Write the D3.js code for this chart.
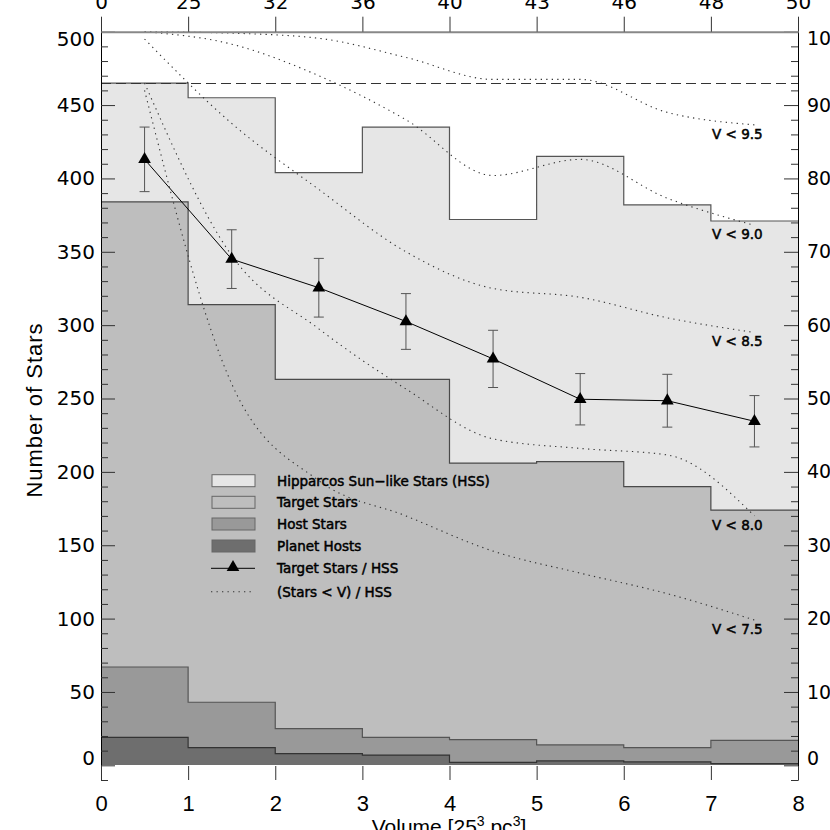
<!DOCTYPE html>
<html><head><meta charset="utf-8">
<script src="https://cdn.jsdelivr.net/npm/d3@7"></script>
<style>body{margin:0;background:#fff}svg{display:block}</style>
</head><body>
<svg id="c" width="830" height="830"></svg>
<script>
// ---- data ----
const bins = [0, 1, 2, 3, 4, 5, 6, 7];
const hssCounts = [465, 455, 404, 435, 372, 415, 382, 371];
const targetCounts = [384, 314, 263, 263, 206, 207, 190, 174];
const hostCounts = [67, 43, 25, 19, 17.5, 14, 12, 17];
const planetCounts = [19, 12, 8, 7, 2, 3, 2.3, 1.2];
const ratioX = [0.5, 1.5, 2.5, 3.5, 4.5, 5.5, 6.5, 7.5];
const ratioPct = [82.6, 69.0, 65.1, 60.5, 55.4, 49.9, 49.7, 46.9];
const ratioErr = [4.4, 4.0, 4.0, 3.8, 3.9, 3.5, 3.6, 3.5];
const curveX = [0.5, 1.5, 2.5, 3.5, 4.5, 5.5, 6.5, 7.5];
const v95 = [100, 99.8, 99.1, 96.5, 93.5, 93.5, 89.0, 87.3];
const v90 = [100, 98.3, 94.0, 88.0, 80.4, 82.6, 77.3, 73.6];
const v85 = [99, 87.5, 78.5, 70.0, 65.0, 63.8, 61.0, 59.0];
const v80 = [93, 69.5, 59.5, 51.3, 44.5, 43.2, 42.3, 34.0];
const v75 = [92, 52.0, 38.8, 34.0, 29.2, 26.2, 23.4, 19.8];
const curveNames = ["V < 9.5", "V < 9.0", "V < 8.5", "V < 8.0", "V < 7.5"];
const dashedLevel = 465;
const leftTicks = [0, 50, 100, 150, 200, 250, 300, 350, 400, 450, 500];
const rightTicks = [0, 10, 20, 30, 40, 50, 60, 70, 80, 90, 100];
const bottomTicks = [0, 1, 2, 3, 4, 5, 6, 7, 8];
const topLabels = ["0", "25", "32", "36", "40", "43", "46", "48", "50"];
const legendItems = ["Hipparcos Sun\u2212like Stars (HSS)", "Target Stars", "Host Stars", "Planet Hosts", "Target Stars / HSS", "(Stars < V) / HSS"];

// ---- chart ----
const svg = d3.select('#c');
const x = d3.scaleLinear([0, 8], [101, 798]);
const y = d3.scaleLinear([-10, 500], [780, 31.7]);
const yR = d3.scaleLinear([-2, 100], [780, 31.7]);

const cHSS = '#e6e6e6', cTarget = '#bebebe', cHost = '#999999', cPlanet = '#6e6e6e';

function bars(vals, fill) {
  svg.append('g').attr('shape-rendering', 'crispEdges')
    .selectAll('rect').data(vals).join('rect')
    .attr('x', (d, i) => x(bins[i]))
    .attr('width', (d, i) => x(bins[i] + 1) - x(bins[i]))
    .attr('y', d => y(d))
    .attr('height', d => y(0) - y(d))
    .attr('fill', fill);
}
function outline(vals, stroke) {
  const pts = vals.map((d, i) => [bins[i], d]);
  pts.push([8, vals[vals.length - 1]]);
  svg.append('path')
    .attr('d', d3.line().x(d => x(d[0])).y(d => y(d[1])).curve(d3.curveStepAfter)(pts))
    .attr('fill', 'none').attr('stroke', stroke).attr('stroke-width', 1.2);
}
bars(hssCounts, cHSS);
bars(targetCounts, cTarget);
bars(hostCounts, cHost);
bars(planetCounts, cPlanet);
outline(hssCounts, '#555');
outline(targetCounts, '#4a4a4a');
outline(hostCounts, '#555');
outline(planetCounts, '#333');

// dashed reference level
svg.append('line')
  .attr('x1', x(0)).attr('x2', x(8)).attr('y1', Math.round(y(dashedLevel)) + 0.5).attr('y2', Math.round(y(dashedLevel)) + 0.5)
  .attr('stroke', '#333').attr('stroke-width', 1).attr('stroke-dasharray', '10,5');

// dotted curves
const curves = [v95, v90, v85, v80, v75];
const cLine = d3.line().x((d, i) => x(curveX[i])).y(d => yR(d)).curve(d3.curveMonotoneX);
curves.forEach((c, k) => {
  svg.append('path').attr('d', cLine(c))
    .attr('fill', 'none').attr('stroke', '#333').attr('stroke-width', 1.1)
    .attr('stroke-dasharray', '1.3,4.2');
  svg.append('text')
    .attr('x', 712).attr('y', yR(c[c.length - 1]) + 14)
    .attr('font-family', 'DejaVu Sans').attr('font-size', 13.5)
    .attr('stroke', '#000').attr('stroke-width', 0.5)
    .text(curveNames[k]);
});

// ratio line, error bars, triangles
svg.append('path')
  .attr('d', d3.line().x((d, i) => x(ratioX[i])).y(d => yR(d))(ratioPct))
  .attr('fill', 'none').attr('stroke', '#000').attr('stroke-width', 1);
const eb = svg.append('g').attr('stroke', '#555').attr('stroke-width', 1);
ratioPct.forEach((p, i) => {
  const cx = x(ratioX[i]);
  eb.append('line').attr('x1', cx).attr('x2', cx).attr('y1', yR(p + ratioErr[i])).attr('y2', yR(p - ratioErr[i]));
  eb.append('line').attr('x1', cx - 5).attr('x2', cx + 5).attr('y1', yR(p + ratioErr[i])).attr('y2', yR(p + ratioErr[i]));
  eb.append('line').attr('x1', cx - 5).attr('x2', cx + 5).attr('y1', yR(p - ratioErr[i])).attr('y2', yR(p - ratioErr[i]));
});
const tri = d3.symbol(d3.symbolTriangle, 70);
svg.append('g').selectAll('path').data(ratioPct).join('path')
  .attr('d', tri).attr('transform', (d, i) => `translate(${x(ratioX[i])},${yR(d)})`)
  .attr('fill', '#000');

// legend
const lg = svg.append('g').attr('font-family', 'DejaVu Sans').attr('font-size', 13.5);
const rowY = [480.7, 502.3, 524, 546, 568.3, 591.7];
const boxFill = [cHSS, cTarget, cHost, cPlanet];
legendItems.forEach((t, i) => {
  if (i < 4) {
    lg.append('rect').attr('x', 212).attr('y', rowY[i] - 6).attr('width', 43).attr('height', 12)
      .attr('fill', boxFill[i]).attr('stroke', '#666').attr('stroke-width', 1);
  } else if (i === 4) {
    lg.append('line').attr('x1', 211).attr('x2', 255).attr('y1', rowY[i]).attr('y2', rowY[i]).attr('stroke', '#000');
    lg.append('path').attr('d', tri).attr('transform', `translate(233,${rowY[i] - 1})`).attr('fill', '#000');
  } else {
    lg.append('line').attr('x1', 211).attr('x2', 255).attr('y1', rowY[i]).attr('y2', rowY[i])
      .attr('stroke', '#333').attr('stroke-dasharray', '1.3,4.2').attr('stroke-width', 1.1);
  }
  lg.append('text').attr('x', 277).attr('y', rowY[i] + 5)
    .attr('stroke', '#000').attr('stroke-width', 0.5).text(t);
});

// axes
function styleAxis(g, size) {
  g.selectAll('text').attr('font-family', 'DejaVu Sans').attr('font-size', size).attr('fill', '#000');
  g.selectAll('.tick line').attr('stroke', '#333');
}
const axLeft = svg.append('g').attr('transform', `translate(${x(0)},0)`)
  .call(d3.axisLeft(y).tickValues(leftTicks).tickSize(-14).tickSizeOuter(0).tickPadding(6));
styleAxis(axLeft, 20);
axLeft.select('.domain').attr('stroke', '#000');
axLeft.selectAll('.tick text').attr('dy', d => d === 500 ? '0.68em' : d === 0 ? '-0.05em' : '0.32em');
svg.append('g').attr('transform', `translate(${x(0)},0)`)
  .call(d3.axisLeft(y).tickValues(d3.range(-10, 501, 10).filter(v => v % 50 !== 0)).tickSize(-7).tickFormat(''))
  .call(g => { g.select('.domain').remove(); g.selectAll('line').attr('stroke', '#333'); });

const axRight = svg.append('g').attr('transform', `translate(${x(8)},0)`)
  .call(d3.axisRight(yR).tickValues(rightTicks).tickSize(-14).tickSizeOuter(0).tickPadding(9));
styleAxis(axRight, 19);
axRight.select('.domain').attr('stroke', '#000');
axRight.selectAll('.tick text').attr('dy', d => d === 100 ? '0.68em' : d === 0 ? '-0.05em' : '0.32em');
svg.append('g').attr('transform', `translate(${x(8)},0)`)
  .call(d3.axisRight(yR).tickValues(d3.range(-2, 101, 2).filter(v => v % 10 !== 0)).tickSize(-7).tickFormat(''))
  .call(g => { g.select('.domain').remove(); g.selectAll('line').attr('stroke', '#333'); });

const axBottom = svg.append('g').attr('transform', `translate(0,${y(-10)})`)
  .call(d3.axisBottom(x).tickValues(bottomTicks).tickSize(-14).tickSizeOuter(0).tickPadding(15));
styleAxis(axBottom, 20);
axBottom.selectAll('text').attr('font-family', 'Liberation Sans Narrow, Liberation Sans, sans-serif').attr('font-size', 22);
axBottom.select('.domain').remove();

const axTop = svg.append('g').attr('transform', `translate(0,${y(500)})`)
  .call(d3.axisTop(x).tickValues(bottomTicks).tickSize(15).tickSizeOuter(0).tickPadding(8)
    .tickFormat((d, i) => topLabels[i]));
styleAxis(axTop, 20);
axTop.select('.domain').attr('stroke', '#888').attr('stroke-width', 2);

// titles
svg.append('text').attr('transform', 'translate(42,410) rotate(-90)')
  .attr('text-anchor', 'middle').attr('font-family', 'Liberation Sans Narrow, Liberation Sans, sans-serif')
  .attr('font-size', 22).attr('letter-spacing', 1).text('Number of Stars');
const xt = svg.append('text').attr('x', 449).attr('y', 834).attr('text-anchor', 'middle')
  .attr('font-family', 'Liberation Sans Narrow, Liberation Sans, sans-serif').attr('font-size', 21);
xt.append('tspan').text('Volume [25');
xt.append('tspan').attr('dy', -8).attr('font-size', 14).text('3');
xt.append('tspan').attr('dy', 8).text(' pc');
xt.append('tspan').attr('dy', -8).attr('font-size', 14).text('3');
xt.append('tspan').attr('dy', 8).text(']');
</script>
</body></html>
